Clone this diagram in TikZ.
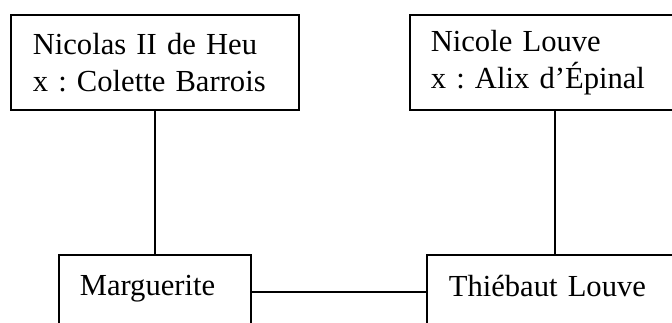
\documentclass[tikz,border=0pt]{standalone}
\usepackage{fontspec}
\setmainfont{Liberation Serif}
\begin{document}
\begin{tikzpicture}[x=1pt,y=-1pt,
	person/.style={draw,line width=1.6pt,anchor=north west,align=left,font=\fontsize{30.6}{37}\selectfont\frenchspacing},
	link/.style={line width=1.6pt}]
	\useasboundingbox (0,0) rectangle (672,323);
	% parents
	\node[person,text width=244pt,inner xsep=22pt,inner ysep=0pt,minimum height=95pt] (heu) at (10,14) {Nicolas II de Heu\\x : Colette Barrois};
	\node[person,text width=248pt,inner xsep=21pt,inner ysep=0pt,minimum height=95pt] (louve) at (409,14) {Nicole Louve\\x : Alix d’Épinal};
	% children
	\node[person,text width=150pt,inner xsep=21pt,inner ysep=20pt,text depth=45pt] (marguerite) at (58,254) {Marguerite};
	\node[person,text width=212pt,inner xsep=22pt,inner ysep=20pt,text depth=45pt] (thiebaut) at (426,254) {Thiébaut Louve};
	\coordinate (m) at ([yshift=3pt]marguerite.base east);
	\draw[link] (heu.south)--(marguerite.north);
	\draw[link] (louve.south)--(thiebaut.north);
	\draw[link] (m)--(m-|thiebaut.west); %mariage
\end{tikzpicture}
\end{document}
